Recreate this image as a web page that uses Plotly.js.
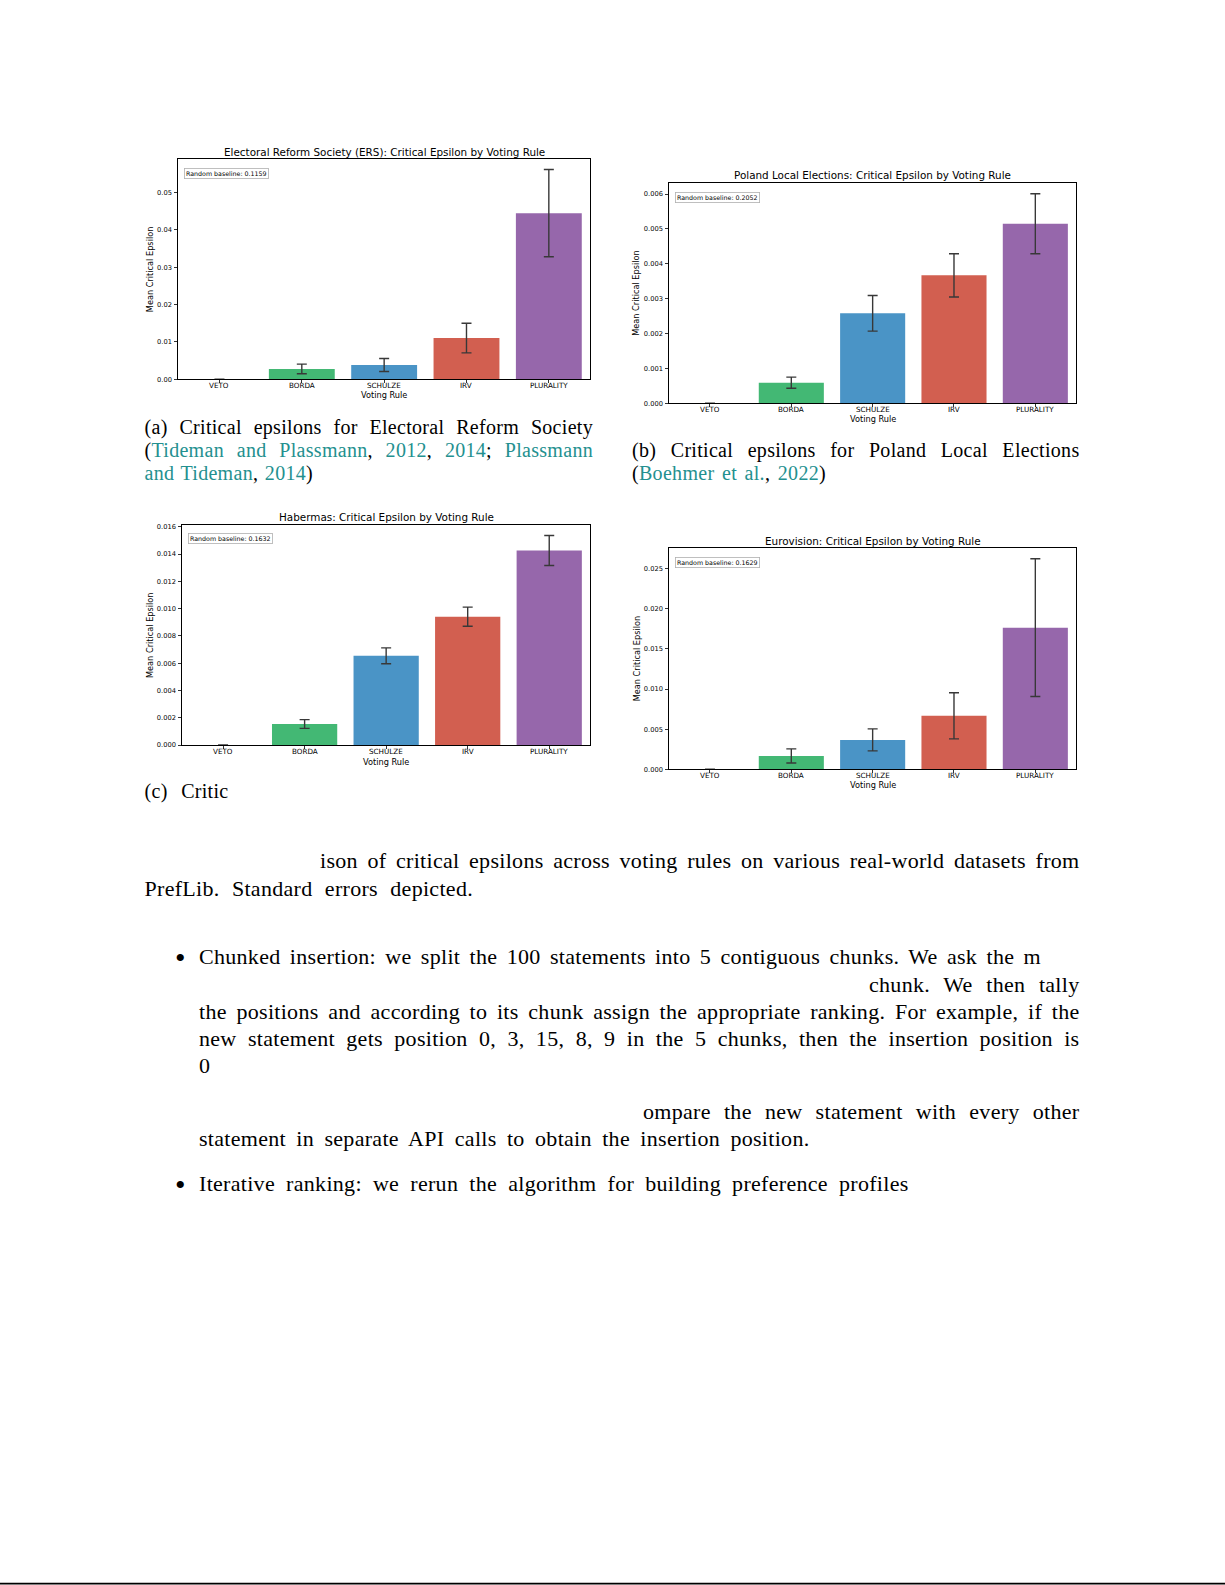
<!DOCTYPE html>
<html>
<head>
<meta charset="utf-8">
<script src="https://cdn.plot.ly/plotly-3.0.1.min.js"></script>
<style>
html,body{margin:0;padding:0;background:#fff;}
#page{position:relative;width:1225px;height:1585px;overflow:hidden;background:#fff;}
#chart{position:absolute;left:0;top:0;width:1225px;height:1585px;}
.ln{position:absolute;font-family:"Liberation Serif","DejaVu Serif",serif;color:#000;white-space:nowrap;line-height:24px;letter-spacing:0.3px;}
.c{color:#23908f;}
</style>
</head>
<body>
<div id="page">
<div id="chart"></div>
</div>
<script>
// ---------------- DATA ----------------
const rules = ["VETO", "BORDA", "SCHULZE", "IRV", "PLURALITY"];

const ersMean = [0, 0.00276, 0.00383, 0.01105, 0.04447];
const ersErr  = [0, 0.00129, 0.00174, 0.00397, 0.01168];

const polandMean = [0, 0.00059, 0.00258, 0.00367, 0.00515];
const polandErr  = [0, 0.00016, 0.00051, 0.00062, 0.00086];

const habermasMean = [0, 0.00154, 0.00654, 0.00941, 0.01426];
const habermasErr  = [0, 0.00032, 0.00058, 0.00070, 0.00110];

const eurovisionMean = [0, 0.00166, 0.00366, 0.00666, 0.01764];
const eurovisionErr  = [0, 0.00088, 0.00137, 0.00287, 0.00857];

const chartTitles = [
  "Electoral Reform Society (ERS): Critical Epsilon by Voting Rule",
  "Poland Local Elections: Critical Epsilon by Voting Rule",
  "Habermas: Critical Epsilon by Voting Rule",
  "Eurovision: Critical Epsilon by Voting Rule"
];
const baselines = ["0.1159", "0.2052", "0.1632", "0.1629"];
const yTickFormats = [".2f", ".3f", ".3f", ".3f"];
const yTickSteps = [0.01, 0.001, 0.002, 0.005];
const xAxisTitle = "Voting Rule";
const yAxisTitle = "Mean Critical Epsilon";

// ---------------- STYLE / LAYOUT ----------------
const W = 1225, H = 1585;
const ruleColors = ["#e08a3c", "#43b874", "#4a94c6", "#d25f50", "#9667ab"];
const means = [ersMean, polandMean, habermasMean, eurovisionMean];
const errs = [ersErr, polandErr, habermasErr, eurovisionErr];
// pixel frames: [left, right, top, bottom]
const frames = [
  [178.3, 590, 159, 379.3],
  [669.3, 1076, 183.3, 403.3],
  [182.3, 590, 525, 745],
  [669.3, 1076, 548.3, 769.3]
];
const titleY = [151.7, 175, 517, 541];
const yLabX = [150, 636.5, 150, 636.5];
const xLabY = [395.3, 419, 761.7, 785];

const px = x => x / W;
const py = y => 1 - y / H;
const sans = "DejaVu Sans, sans-serif";

const traces = [];
const layout = {
  width: W, height: H,
  margin: {l: 0, r: 0, t: 0, b: 0},
  paper_bgcolor: "#fff", plot_bgcolor: "#fff",
  showlegend: false, bargap: 0.2,
  font: {family: sans, color: "#000"},
  annotations: [],
  shapes: [{
    type: "line", xref: "paper", yref: "paper",
    x0: 0, x1: 1, y0: py(1583.6), y1: py(1583.6),
    line: {color: "#000", width: 1.6}
  }]
};

for (let i = 0; i < 4; i++) {
  const s = i === 0 ? "" : String(i + 1);
  const f = frames[i];
  let top = 0;
  for (let k = 0; k < means[i].length; k++) top = Math.max(top, means[i][k] + errs[i][k]);
  traces.push({
    type: "bar",
    x: rules, y: means[i],
    xaxis: "x" + s, yaxis: "y" + s,
    marker: {color: ruleColors, line: {width: 0}},
    error_y: {type: "data", array: errs[i], visible: true, color: "#383838", thickness: 1.4, width: 5},
    hoverinfo: "skip"
  });
  layout["xaxis" + s] = {
    domain: [px(f[0]), px(f[1])], anchor: "y" + s,
    type: "category", range: [-0.5, 4.5],
    showline: true, mirror: true, linecolor: "#000", linewidth: 1,
    ticks: "outside", ticklen: 3, tickwidth: 0.8, tickcolor: "#000",
    showgrid: false, zeroline: false, showticklabels: false
  };
  layout["yaxis" + s] = {
    domain: [py(f[3]), py(f[2])], anchor: "x" + s,
    range: [0, top * 1.05],
    tick0: 0, dtick: yTickSteps[i], tickformat: yTickFormats[i],
    showline: true, mirror: true, linecolor: "#000", linewidth: 1,
    ticks: "outside", ticklen: 3, tickwidth: 0.8, tickcolor: "#000",
    showgrid: false, zeroline: false, ticklabelstandoff: 1,
    tickfont: {family: sans, size: 6.7, color: "#000"}
  };
  rules.forEach(function (r) {
    layout.annotations.push({
      text: r, xref: "x" + s, yref: "paper", x: r, y: py(f[3] + 6.2),
      xanchor: "center", yanchor: "middle", showarrow: false,
      font: {family: sans, size: 7.2, color: "#000"}
    });
  });
  const cx = (f[0] + f[1]) / 2;
  layout.annotations.push(
    {text: chartTitles[i], xref: "paper", yref: "paper", x: px(cx), y: py(titleY[i]),
     xanchor: "center", yanchor: "middle", showarrow: false, font: {family: sans, size: 10.4, color: "#000"}},
    {text: yAxisTitle, xref: "paper", yref: "paper", x: px(yLabX[i]), y: py((f[2] + f[3]) / 2),
     xanchor: "center", yanchor: "middle", textangle: -90, showarrow: false, font: {family: sans, size: 8.2, color: "#000"}},
    {text: xAxisTitle, xref: "paper", yref: "paper", x: px(cx), y: py(xLabY[i]),
     xanchor: "center", yanchor: "middle", showarrow: false, font: {family: sans, size: 8.2, color: "#000"}},
    {text: "Random baseline: " + baselines[i], xref: "paper", yref: "paper", x: px(f[0] + 5.5), y: py(f[2] + 8.5),
     xanchor: "left", yanchor: "top", showarrow: false, bordercolor: "#b0b0b0", borderwidth: 0.8, borderpad: 1.2,
     bgcolor: "#fff", font: {family: sans, size: 6.3, color: "#000"}}
  );
}

Plotly.newPlot("chart", traces, layout, {staticPlot: true, displayModeBar: false});

// ---------------- PAGE TEXT ----------------
// [html, left, right(null = natural), centerY, fontSize]
const textLines = [
  ["(a) Critical epsilons for Electoral Reform Society", 144.5, 593, 426.5, 20],
  ["(<span class='c'>Tideman and Plassmann</span>, <span class='c'>2012</span>, <span class='c'>2014</span>; <span class='c'>Plassmann</span>", 144.5, 593, 450, 20],
  ["<span class='c'>and Tideman</span>, <span class='c'>2014</span>)", 144.5, 313, 473, 20],
  ["(b) Critical epsilons for Poland Local Elections", 632, 1079.5, 450, 20],
  ["(<span class='c'>Boehmer et al.</span>, <span class='c'>2022</span>)", 632, 826, 473, 20],
  ["(c)&nbsp; Critic", 144.5, 228.5, 791, 20],
  ["ison of critical epsilons across voting rules on various real-world datasets from", 320, 1079.5, 861, 22],
  ["PrefLib. Standard errors depicted.", 144.5, 473, 888.5, 22],
  ["<span style='font-size:30px'>•</span>", 175, null, 958, 22],
  ["Chunked insertion: we split the 100 statements into 5 contiguous chunks. We ask the m", 199, 1041, 957, 22],
  ["chunk. We then tally", 869, 1079.5, 984.5, 22],
  ["the positions and according to its chunk assign the appropriate ranking. For example, if the", 199, 1079.5, 1012, 22],
  ["new statement gets position 0, 3, 15, 8, 9 in the 5 chunks, then the insertion position is", 199, 1079.5, 1039, 22],
  ["0", 199, null, 1066, 22],
  ["ompare the new statement with every other", 643, 1079.5, 1112, 22],
  ["statement in separate API calls to obtain the insertion position.", 199, 809.5, 1139, 22],
  ["<span style='font-size:30px'>•</span>", 175, null, 1184.5, 22],
  ["Iterative ranking: we rerun the algorithm for building preference profiles", 199, 908.6, 1183.5, 22]
];
const page = document.getElementById("page");
textLines.forEach(function (t) {
  const d = document.createElement("div");
  d.className = "ln";
  d.innerHTML = t[0];
  d.style.left = t[1] + "px";
  d.style.top = (t[3] - 12) + "px";
  d.style.fontSize = t[4] + "px";
  page.appendChild(d);
  if (t[2] !== null) {
    const nat = d.getBoundingClientRect().width;
    const spaces = (d.textContent.match(/[ \u00a0]/g) || []).length;
    const target = t[2] - t[1];
    if (spaces > 0) {
      d.style.wordSpacing = ((target - nat) / spaces) + "px";
    } else {
      const chars = d.textContent.length;
      d.style.letterSpacing = (0.3 + (target - nat) / chars) + "px";
    }
  }
});
</script>
</body>
</html>
